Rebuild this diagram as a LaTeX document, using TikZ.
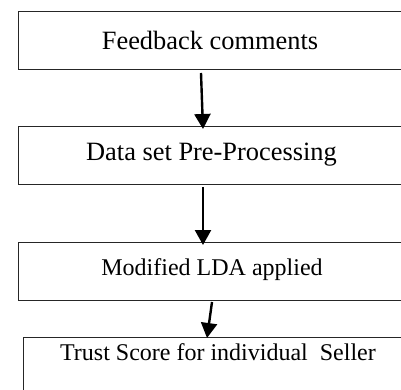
\documentclass[tikz,border=0pt]{standalone}
\usepackage{fontspec}
\setmainfont{Liberation Serif}
\usetikzlibrary{arrows.meta}
\begin{document}
\begin{tikzpicture}[x=1pt,y=-1pt,
  box/.style={draw=black!85,line width=1.2pt,minimum width=386pt,minimum height=58pt,inner sep=0pt,anchor=north west},
  big/.style={font=\fontsize{26.4}{30}\selectfont},
  small/.style={font=\fontsize{24}{28}\selectfont},
  flow/.style={line width=2.4pt,-{Triangle[length=15pt,width=16pt]}}]
\useasboundingbox (0,0) rectangle (401,390);
\clip (0,0) rectangle (401,390);
\fill[white] (0,0) rectangle (401,390);
\node[box] (b1) at (18,11) {};
\node[box] (b2) at (18,126) {};
\node[box] (b3) at (18,242) {};
\node[box,minimum width=390pt,minimum height=70pt] (b4) at (23,337) {};
\node[big] (t1) at (210,40) {Feedback comments};
\node[big] (t2) at (211.5,154.5) {Data set Pre-Processing};
\node[small] (t3) at (212,270) {Modified LDA applied};
\node[small] (t4) at (218,352) {Trust Score for individual\ \ Seller};
\coordinate (a1) at (201,73);
\coordinate (e1) at (203,129);
\coordinate (a2) at (203,187);
\coordinate (e2) at (203,245);
\coordinate (a3) at (212,302);
\coordinate (e3) at (207,338);
\draw[flow] (a1) -- (e1);
\draw[flow] (a2) -- (e2);
\draw[flow] (a3) -- (e3);
\end{tikzpicture}
\end{document}
